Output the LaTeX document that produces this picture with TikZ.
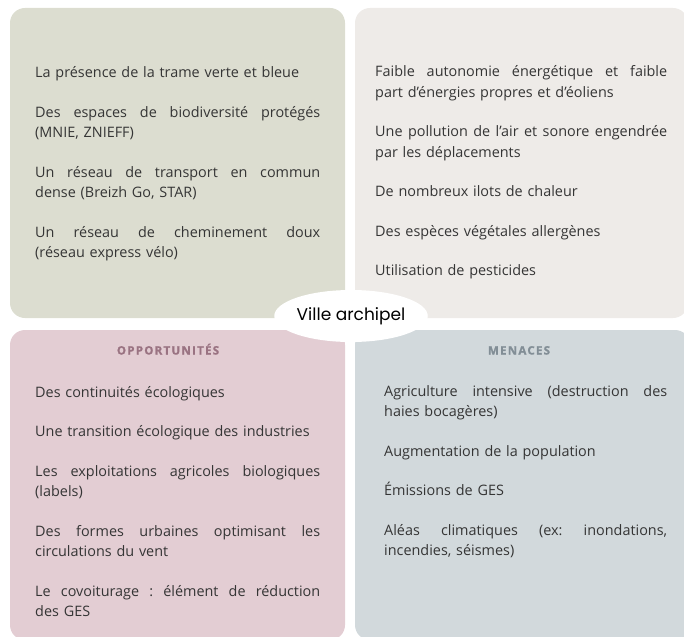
\documentclass[tikz,border=0pt]{standalone}
\usepackage{fontspec}
\setmainfont{Open Sans}
\newfontfamily\titlefont{Poppins}
\newfontfamily\headfont[FakeBold=1.2, LetterSpace=11]{Open Sans Bold}
\usetikzlibrary{shapes.geometric}
\definecolor{tlbg}{HTML}{DCDDD0}
\definecolor{trbg}{HTML}{EEEBE8}
\definecolor{blbg}{HTML}{E3CDD3}
\definecolor{brbg}{HTML}{D2D9DC}
\definecolor{txt}{HTML}{353535}
\definecolor{opcol}{HTML}{9A7382}
\definecolor{mecol}{HTML}{828E96}
\newcommand{\jline}[2]{\leavevmode\hbox to #1{\frenchspacing\spaceskip=0.25em plus 1fil\relax\xspaceskip=\spaceskip #2}}
\begin{document}
\begin{tikzpicture}[x=1pt,y=-1pt,
  panel/.style={rounded corners=15pt},
  body/.style={anchor=base west, inner sep=0pt, align=left, text=txt,
    font=\fontsize{14.4}{20.5}\selectfont},
  head/.style={anchor=base, inner sep=0pt,
    font=\headfont\fontsize{11.5}{12}\selectfont}]
\useasboundingbox (0,0) rectangle (684,636);
\begin{scope}
\clip (0,0) rectangle (684,636);
\fill[tlbg, panel] (10,8) rectangle (345,318);
\fill[trbg, panel] (355,8) rectangle (688,318);
\fill[blbg, panel] (10,330) rectangle (345,640);
\fill[brbg, panel] (355,330) rectangle (690,640);
\end{scope}

\node[body, text width=285pt] (forces) at (35,78) {%
La présence de la trame verte et bleue\\[19pt]
\jline{285pt}{Des espaces de biodiversité protégés}\\
(MNIE, ZNIEFF)\\[19pt]
\jline{285pt}{Un réseau de transport en commun}\\
dense (Breizh Go, STAR)\\[19pt]
\jline{285pt}{Un réseau de cheminement doux}\\
(réseau express vélo)};

\node[body, text width=292pt] (faiblesses) at (375,77) {%
\jline{292pt}{Faible autonomie énergétique et faible}\\
part d’énergies propres et d’éoliens\\[19pt]
\jline{292pt}{Une pollution de l’air et sonore engendrée}\\
par les déplacements\\[19pt]
De nombreux ilots de chaleur\\[19pt]
Des espèces végétales allergènes\\[19pt]
Utilisation de pesticides};

\node[head, text=opcol] (ophead) at (168,354.5) {OPPORTUNITÉS};
\node[body, text width=285pt] (opport) at (35,397) {%
Des continuités écologiques\\[19pt]
Une transition écologique des industries\\[19pt]
\jline{285pt}{Les exploitations agricoles biologiques}\\
(labels)\\[19pt]
\jline{285pt}{Des formes urbaines optimisant les}\\
circulations du vent\\[19pt]
\jline{285pt}{Le covoiturage : élément de réduction}\\
des GES};

\node[head, text=mecol] (mehead) at (519,354.5) {MENACES};
\node[body, text width=283pt] (menaces) at (384,396) {%
\jline{283pt}{Agriculture intensive (destruction des}\\
haies bocagères)\\[19pt]
Augmentation de la population\\[19pt]
Émissions de GES\\[19pt]
\jline{283pt}{Aléas climatiques (ex: inondations,}\\
incendies, séismes)};

\node[ellipse, fill=white, minimum width=126pt, minimum height=52pt, inner sep=0pt,
  font=\titlefont\fontsize{17}{20}\selectfont] (centre) at (351,316) {Ville archipel};
\end{tikzpicture}
\end{document}
